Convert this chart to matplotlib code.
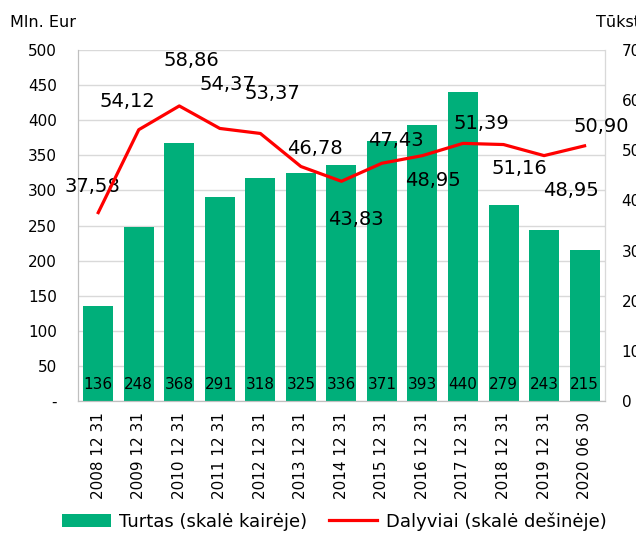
import matplotlib.pyplot as plt

dates = ["2008 12 31", "2009 12 31", "2010 12 31", "2011 12 31", "2012 12 31",
         "2013 12 31", "2014 12 31", "2015 12 31", "2016 12 31", "2017 12 31",
         "2018 12 31", "2019 12 31", "2020 06 30"]
turtas = [136, 248, 368, 291, 318, 325, 336, 371, 393, 440, 279, 243, 215]
dalyviai = [37.58, 54.12, 58.86, 54.37, 53.37, 46.78, 43.83, 47.43, 48.95, 51.39,
            51.16, 48.95, 50.90]

# label offsets for the line values, in pixels
lbl_off = [(-6, 26), (-11, 28), (12, 45), (8, 44), (12, 40), (14, 18), (14, -38),
           (14, 23), (10, -25), (18, 20), (16, -24), (27, -35), (17, 19)]

green = '#00AF7A'
red = '#FF0000'
grid = '#D9D9D9'

fig = plt.figure(figsize=(6.36, 5.33), dpi=100)
ax = fig.add_axes([0.1226, 0.2477, 0.8284, 0.6583])
ax2 = ax.twinx()

x = range(len(dates))
ax.bar(x, turtas, width=0.74, color=green, zorder=2, label='Turtas (skalė kairėje)')
ax.set_xlim(-0.5, len(dates) - 0.5)
ax.set_ylim(0, 500)
ax.set_yticks(range(0, 501, 50))
ax.set_yticklabels(['-'] + [str(v) for v in range(50, 501, 50)])
ax.yaxis.grid(True, color=grid, lw=1, zorder=0)
ax.set_axisbelow(True)
ax.set_xticks(list(x))
ax.set_xticklabels(dates, rotation=90)
ax.tick_params(axis='y', length=0, pad=15, labelsize=11)
ax.tick_params(axis='x', length=0, pad=8, labelsize=11)

for i, v in enumerate(turtas):
    ax.annotate(str(v), (i, 0), xytext=(0, 16), textcoords='offset pixels',
                ha='center', va='center', fontsize=11, zorder=3)

ax2.plot(list(x), dalyviai, color=red, lw=2.3, zorder=4,
         label='Dalyviai (skalė dešinėje)', solid_joinstyle='round')
ax2.set_ylim(0, 70)
ax2.set_yticks(range(0, 71, 10))
ax2.tick_params(axis='y', length=0, pad=12, labelsize=11)
for i, v in enumerate(dalyviai):
    ax2.annotate(f"{v:.2f}".replace('.', ','), (i, v), xytext=lbl_off[i],
                 textcoords='offset pixels', ha='center', va='center', fontsize=14)

for a in (ax, ax2):
    for s in a.spines.values():
        s.set_color('#BFBFBF')
    a.spines['top'].set_visible(False)
ax2.spines['right'].set_color(grid)

fig.text(10 / 636, 1 - 22 / 533, 'Mln. Eur', fontsize=11.5, va='center', ha='left')
fig.text(596 / 636, 1 - 22 / 533, 'Tūkst.', fontsize=11.5, va='center', ha='left')

h1, l1 = ax.get_legend_handles_labels()
h2, l2 = ax2.get_legend_handles_labels()
fig.legend(h1 + h2, l1 + l2, loc='center left', bbox_to_anchor=(62 / 636, 0.022),
           ncol=2, frameon=False, fontsize=13, borderpad=0, borderaxespad=0,
           handlelength=2.7, handletextpad=0.45, columnspacing=1.2)

fig.savefig('out.png', dpi=100)
